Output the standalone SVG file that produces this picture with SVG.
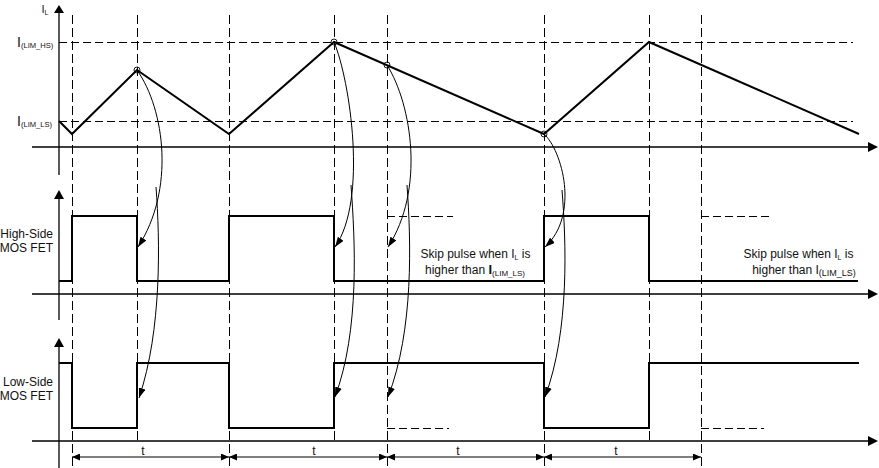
<svg xmlns="http://www.w3.org/2000/svg" width="879" height="468" viewBox="0 0 879 468">
<style>
.axis{stroke:#000;stroke-width:1.3;fill:none}
.grid{stroke:#000;stroke-width:1;stroke-dasharray:9 4;fill:none;shape-rendering:crispEdges}
.hgrid{stroke:#000;stroke-width:1;stroke-dasharray:8 4;fill:none;shape-rendering:crispEdges}
.wave{stroke:#000;stroke-width:2;fill:none;stroke-linejoin:miter}
.curve{stroke:#000;stroke-width:1;fill:none}
.dim{stroke:#000;stroke-width:1.2;fill:none}
.pt{stroke:#000;stroke-width:0.9;fill:none}
text{font-family:"Liberation Sans",Arial,sans-serif;fill:#111}
.lbl{font-size:12px}
</style>
<defs>
<marker id="ah" markerUnits="userSpaceOnUse" viewBox="0 0 10 7" refX="10" refY="3.5" markerWidth="10" markerHeight="7" orient="auto">
<path d="M0,0 L10,3.5 L0,7 Z" fill="#000"/>
</marker>
<marker id="dh" markerUnits="userSpaceOnUse" viewBox="0 0 8 7" refX="8" refY="3.5" markerWidth="8" markerHeight="7" orient="auto-start-reverse">
<path d="M0,0 L8,3.5 L0,7 Z" fill="#000"/>
</marker>
</defs>
<rect width="879" height="468" fill="#fff"/>

<g id="grid">
<line class="grid" x1="72" y1="15" x2="72" y2="466"/>
<line class="grid" x1="137" y1="15" x2="137" y2="441"/>
<line class="grid" x1="229" y1="15" x2="229" y2="466"/>
<line class="grid" x1="334" y1="15" x2="334" y2="441"/>
<line class="grid" x1="387" y1="15" x2="387" y2="466"/>
<line class="grid" x1="544" y1="15" x2="544" y2="466"/>
<line class="grid" x1="649" y1="15" x2="649" y2="441"/>
<line class="grid" x1="701" y1="15" x2="701" y2="466"/>
<line class="hgrid" x1="59" y1="42" x2="853" y2="42"/>
<line class="hgrid" x1="59" y1="121" x2="853" y2="121"/>
<line class="hgrid" x1="387" y1="216" x2="453" y2="216"/>
<line class="hgrid" x1="701" y1="216" x2="769" y2="216"/>
<line class="hgrid" x1="387" y1="428" x2="449" y2="428"/>
<line class="hgrid" x1="701" y1="428" x2="764" y2="428"/>
</g>

<g id="axes">
<line class="axis" x1="59" y1="12" x2="59" y2="175"/>
<path d="M59,5 L54,13 L64,13 Z" fill="#000"/>
<line class="axis" x1="59" y1="198" x2="59" y2="320"/>
<path d="M59,190 L54,199 L64,199 Z" fill="#000"/>
<line class="axis" x1="59" y1="346" x2="59" y2="468"/>
<path d="M59,338 L54,347 L64,347 Z" fill="#000"/>
<line class="axis" x1="32" y1="147" x2="869" y2="147"/>
<path d="M868,142 L878,147 L868,152 Z" fill="#000"/>
<line class="axis" x1="32" y1="294" x2="869" y2="294"/>
<path d="M868,289 L878,294 L868,299 Z" fill="#000"/>
<line class="axis" x1="32" y1="441" x2="869" y2="441"/>
<path d="M868,436 L878,441 L868,446 Z" fill="#000"/>
</g>

<g id="il-waveform">
<polyline class="wave" points="59,121 72,134 137,70 229,134 334,42 544,134 649,42 859,134"/>
<circle class="pt" cx="137" cy="70" r="3"/>
<circle class="pt" cx="334" cy="42" r="3"/>
<circle class="pt" cx="387" cy="65" r="3"/>
<circle class="pt" cx="544" cy="134" r="3"/>
</g>

<g id="hs-waveform">
<path class="wave" d="M59,281 H72 V216 H137 V281 H229 V216 H334 V281 H544 V216 H649 V281 H858"/>
</g>

<g id="ls-waveform">
<path class="wave" d="M59,363 H72 V428 H137 V363 H229 V428 H334 V363 H544 V428 H649 V363 H859"/>
</g>

<g id="connectors">
<path class="curve" marker-end="url(#ah)" d="M137,70 C165,110 175,190 138,247"/>
<path class="curve" marker-end="url(#ah)" d="M156,187 C160,240 162,330 139,398"/>
<path class="curve" marker-end="url(#ah)" d="M334,42 C350,80 368,200 335,247"/>
<path class="curve" marker-end="url(#ah)" d="M351,185 C355,240 360,330 335,397"/>
<path class="curve" marker-end="url(#ah)" d="M387,65 C412,105 425,190 388,247"/>
<path class="curve" marker-end="url(#ah)" d="M407,185 C411,240 414,330 388,397"/>
<path class="curve" marker-end="url(#ah)" d="M544,134 C562,150 580,215 545,247"/>
<path class="curve" marker-end="url(#ah)" d="M562,190 C566,240 570,330 545,397"/>
<line class="dim" x1="72" y1="457" x2="229" y2="457" marker-start="url(#dh)" marker-end="url(#dh)"/>
<line class="dim" x1="229" y1="457" x2="387" y2="457" marker-start="url(#dh)" marker-end="url(#dh)"/>
<line class="dim" x1="387" y1="457" x2="544" y2="457" marker-start="url(#dh)" marker-end="url(#dh)"/>
<line class="dim" x1="544" y1="457" x2="701" y2="457" marker-start="url(#dh)" marker-end="url(#dh)"/>
</g>

<g id="labels">
<text x="41.5" y="13" font-size="11">I<tspan font-size="7" dy="1.5">L</tspan></text>
<text x="17" y="47" font-size="14">I<tspan font-size="7.6" dy="1">(LIM_HS)</tspan></text>
<text x="17" y="126" font-size="14">I<tspan font-size="7.6" dy="1">(LIM_LS)</tspan></text>
<text class="lbl" x="53" y="237.5" text-anchor="end">High-Side</text>
<text class="lbl" x="53" y="251.5" text-anchor="end">MOS FET</text>
<text class="lbl" x="53" y="386" text-anchor="end">Low-Side</text>
<text class="lbl" x="53" y="400" text-anchor="end">MOS FET</text>
<text class="lbl" x="475.5" y="258" text-anchor="middle">Skip pulse when I<tspan font-size="7" dy="2">L</tspan><tspan dy="-2"> is</tspan></text>
<text class="lbl" x="475" y="274" text-anchor="middle">higher than <tspan font-size="13" font-weight="bold">I</tspan><tspan font-size="8" dy="1.5">(LIM_LS)</tspan></text>
<text class="lbl" x="798.5" y="258" text-anchor="middle">Skip pulse when I<tspan font-size="7" dy="2">L</tspan><tspan dy="-2"> is</tspan></text>
<text class="lbl" x="804" y="274" text-anchor="middle">higher than I<tspan font-size="9" dy="1.5">(LIM_LS)</tspan></text>
<text class="lbl" x="143" y="455" text-anchor="middle">t</text>
<text class="lbl" x="314" y="455" text-anchor="middle">t</text>
<text class="lbl" x="458" y="455" text-anchor="middle">t</text>
<text class="lbl" x="616" y="455" text-anchor="middle">t</text>
</g>
</svg>
